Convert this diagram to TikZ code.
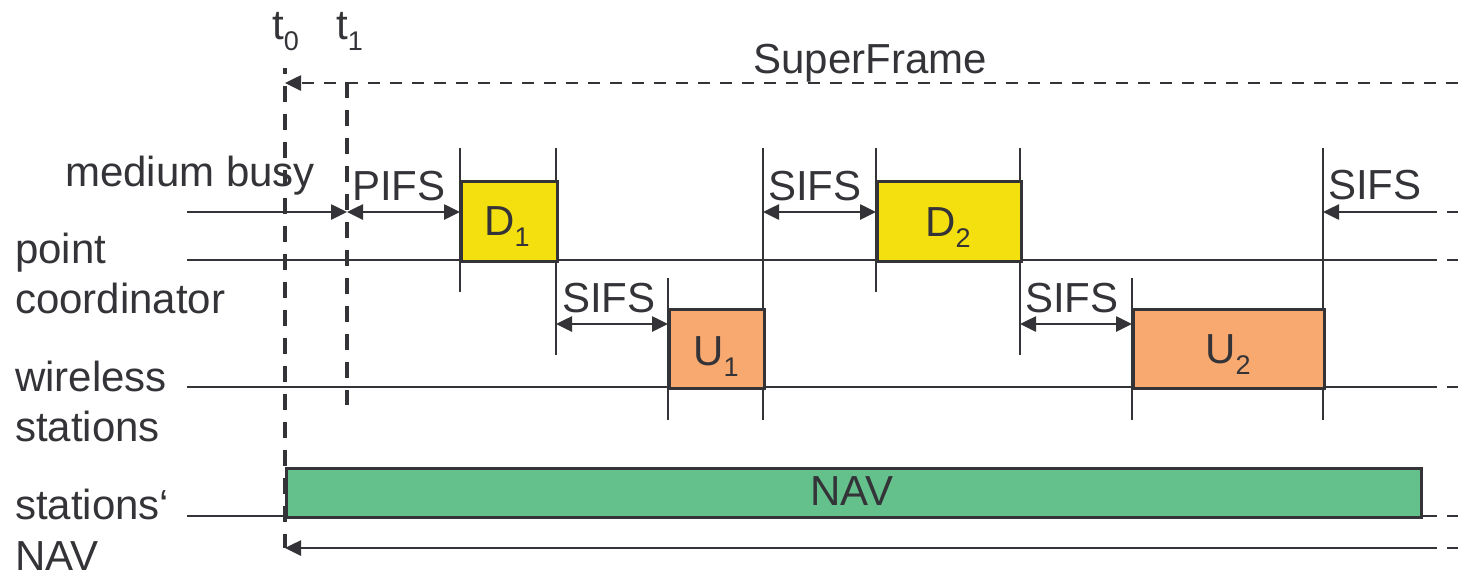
\documentclass[tikz,border=0pt]{standalone}
\usepackage{fontspec}
\setmainfont{Liberation Sans}
\usetikzlibrary{arrows.meta}
\definecolor{lc}{HTML}{333338}
\definecolor{dyel}{HTML}{F5E00F}
\definecolor{uor}{HTML}{F8A970}
\definecolor{ngr}{HTML}{64C18B}
\newcommand\sbs[1]{\raisebox{-11pt}{\fontsize{27}{30}\selectfont #1}}
\begin{document}
\begin{tikzpicture}[x=1pt,y=-1pt, font=\fontsize{42}{50}\selectfont,
 ln/.style={draw=lc,line width=2.6pt},
 tip/.style={-{Triangle[length=16pt,width=15pt]}},
 dtip/.style={{Triangle[length=16pt,width=15pt]}-{Triangle[length=16pt,width=15pt]}},
 tdash/.style={draw=lc,line width=3.6pt,dash pattern=on 16pt off 12pt},
 hdash/.style={draw=lc,line width=2.6pt,dash pattern=on 12pt off 10pt},
 frame/.style={draw=lc,line width=2.6pt,inner sep=0pt,anchor=north west},
 lbl/.style={anchor=base west,inner sep=0pt,text=lc},
 clbl/.style={anchor=base,inner sep=0pt,text=lc}
]
\useasboundingbox (0,0) rectangle (1458,574);

% coordinates
\coordinate (L0) at (187,212);
\coordinate (T1m) at (347,212);
\coordinate (pcL) at (187,260);
\coordinate (pcR) at (1425,260);
\coordinate (pcE) at (1458,260);
\coordinate (wsL) at (187,387);
\coordinate (wsR) at (1425,387);
\coordinate (wsE) at (1458,387);
\coordinate (nvL) at (187,516);
\coordinate (nvR) at (1425,516);
\coordinate (nvE) at (1458,516);
\coordinate (t0top) at (285,68);
\coordinate (t0bot) at (285,548);
\coordinate (t1top) at (347,82);
\coordinate (t1bot) at (347,405);
\coordinate (sfR) at (1458,83);
\coordinate (sfL) at (285,83);
\coordinate (baR) at (1425,548);
\coordinate (baE) at (1458,548);
\coordinate (s4R) at (1425,212);
\coordinate (s4E) at (1458,212);

% vertical marker lines
\coordinate (v1a) at (460,148); \coordinate (v1b) at (460,292);
\coordinate (v2a) at (556,148); \coordinate (v2b) at (556,355);
\coordinate (v3a) at (668,278); \coordinate (v3b) at (668,420);
\coordinate (v4a) at (763,148); \coordinate (v4b) at (763,420);
\coordinate (v5a) at (876,148); \coordinate (v5b) at (876,292);
\coordinate (v6a) at (1020,148); \coordinate (v6b) at (1020,355);
\coordinate (v7a) at (1132,278); \coordinate (v7b) at (1132,420);
\coordinate (v8a) at (1323,148); \coordinate (v8b) at (1323,420);
\foreach \i in {1,...,8} {\draw[ln] (v\i a) -- (v\i b);}

% horizontal lines
\draw[ln] (pcL) -- (pcR); \draw[hdash] (pcR) -- (pcE);
\draw[ln] (wsL) -- (wsR); \draw[hdash] (wsR) -- (wsE);
\draw[ln] (nvL) -- (nvR); \draw[hdash] (nvR) -- (nvE);

% boxes
\node[frame,fill=dyel,minimum width=96pt,minimum height=80pt] (D1) at (460,180) {};
\node[frame,fill=dyel,minimum width=144pt,minimum height=80pt] (D2) at (876,180) {};
\node[frame,fill=uor,minimum width=95pt,minimum height=79pt] (U1) at (668,308) {};
\node[frame,fill=uor,minimum width=191pt,minimum height=79pt] (U2) at (1132,308) {};
\node[frame,fill=ngr,minimum width=1135pt,minimum height=49pt] (NAV) at (285,467) {};

\node[clbl] at (507,235) {D\sbs{1}};
\node[clbl] at (948,236) {D\sbs{2}};
\node[clbl] at (716,365) {U\sbs{1}};
\node[clbl] at (1228,363) {U\sbs{2}};
\node[clbl] at (852,505) {NAV};

% arrows
\draw[ln,tip] (L0) -- (T1m);
\coordinate (pifsR) at (460,212);
\draw[ln,dtip] (T1m) -- (pifsR);
\coordinate (s1L) at (556,324); \coordinate (s1R) at (668,324);
\draw[ln,dtip] (s1L) -- (s1R);
\coordinate (s2L) at (763,212); \coordinate (s2R) at (876,212);
\draw[ln,dtip] (s2L) -- (s2R);
\coordinate (s3L) at (1020,324); \coordinate (s3R) at (1132,324);
\draw[ln,dtip] (s3L) -- (s3R);
\coordinate (s4L) at (1323,212);
\draw[ln,tip] (s4R) -- (s4L); \draw[hdash] (s4R) -- (s4E);
\draw[ln,tip] (baR) -- (t0bot); \draw[hdash] (baR) -- (baE);
\draw[hdash,tip] (sfR) -- (sfL);

% time markers
\draw[tdash,dash phase=10pt] (t0top) -- (t0bot);
\draw[tdash] (t1top) -- (t1bot);

% labels
\node[lbl] at (272,39) {t\sbs{0}};
\node[lbl] at (336,39) {t\sbs{1}};
\node[clbl] at (870,73) {SuperFrame};
\node[lbl] at (352,200) {PIFS};
\node[lbl] at (562,312) {SIFS};
\node[lbl] at (768,200) {SIFS};
\node[lbl] at (1025,312) {SIFS};
\node[lbl] at (1328,199) {SIFS};
\node[lbl] at (65,186) {medium busy};
\node[lbl] at (15,263) {point};
\node[lbl] at (15,313) {coordinator};
\node[lbl] at (15,391) {wireless};
\node[lbl] at (15,441) {stations};
\node[lbl] at (15,519) {stations‘};
\node[lbl] at (15,570) {NAV};
\end{tikzpicture}
\end{document}
